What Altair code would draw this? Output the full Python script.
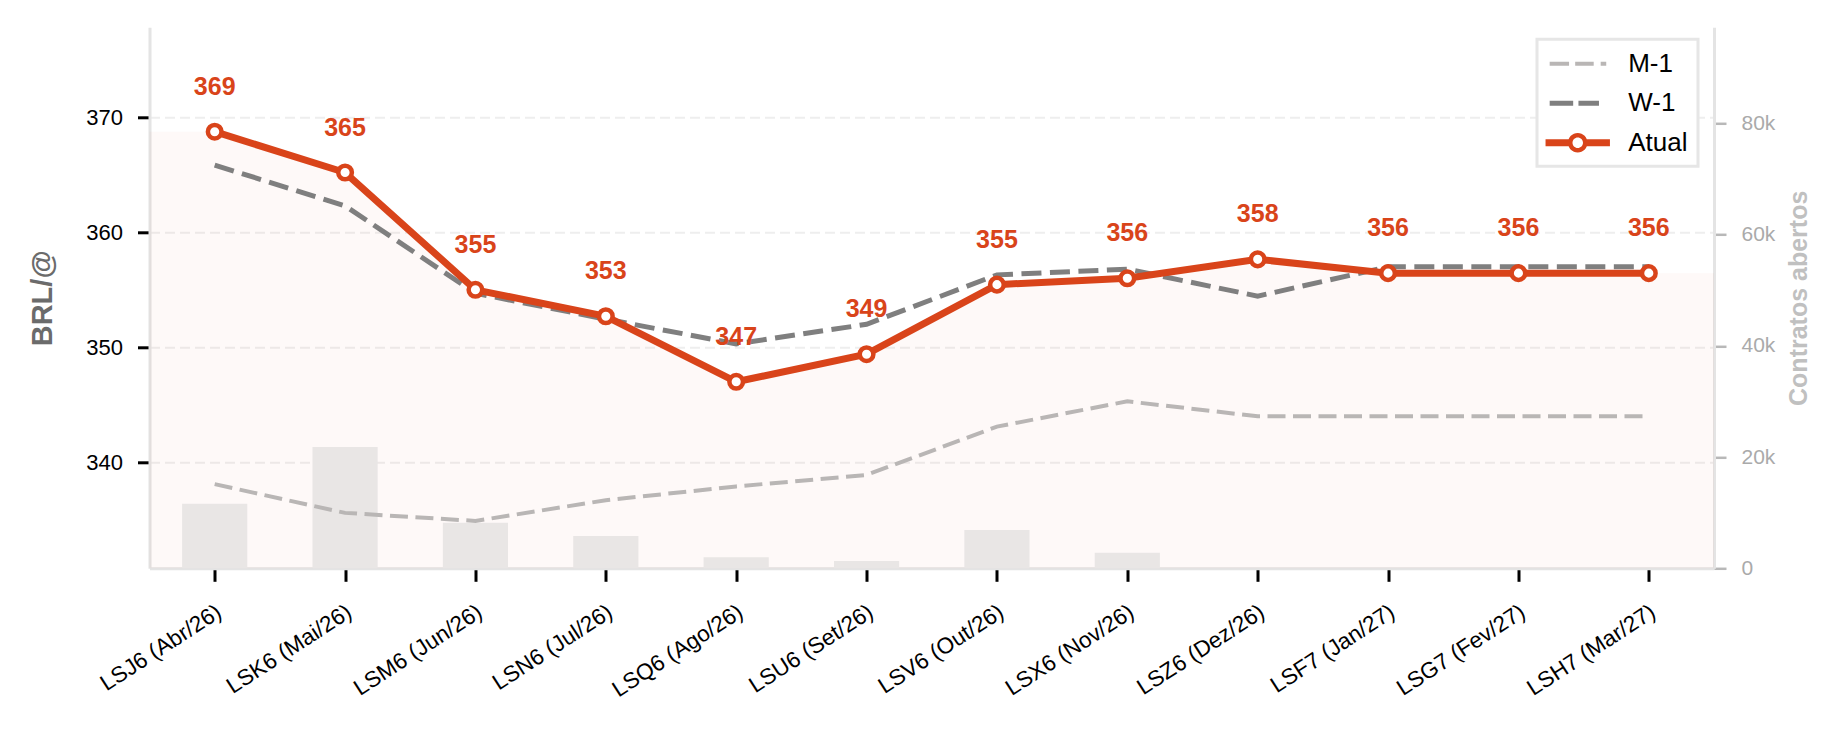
import altair as alt
import pandas as pd

# ---- data -------------------------------------------------------------
contracts = [
    "LSJ6 (Abr/26)", "LSK6 (Mai/26)", "LSM6 (Jun/26)", "LSN6 (Jul/26)",
    "LSQ6 (Ago/26)", "LSU6 (Set/26)", "LSV6 (Out/26)", "LSX6 (Nov/26)",
    "LSZ6 (Dez/26)", "LSF7 (Jan/27)", "LSG7 (Fev/27)", "LSH7 (Mar/27)",
]
atual = [368.75, 365.2, 355.0, 352.7, 347.0, 349.4, 355.45, 356.0, 357.65, 356.45, 356.45, 356.45]
w1 = [365.85, 362.3, 354.7, 352.45, 350.3, 352.0, 356.3, 356.8, 354.45, 357.0, 357.0, 357.0]
m1 = [338.1, 335.6, 334.9, 336.7, 337.9, 338.9, 343.1, 345.3, 344.0, 344.0, 344.0, 344.0]
open_interest = [11600, 21800, 8200, 5800, 2000, 1300, 6900, 2800, 0, 0, 0, 0]
series_names = ["M-1", "W-1", "Atual"]

# ---- styling ----------------------------------------------------------
FONT = "Liberation Sans"
RED = "#d9441a"
DARK_GREY = "#7f7f7f"
LIGHT_GREY = "#b9b6b5"
BAR_FILL = "#e9e6e5"
SPINE = "#e4e4e4"

W, H = 1564.5, 541
PRICE_DOMAIN = [330.78, 377.83]
OI_DOMAIN = [0, 97260]

idx = list(range(len(contracts)))
df = pd.DataFrame({
    "idx": idx, "contract": contracts, "atual": atual,
    "w1": w1, "m1": m1, "oi": open_interest,
})
# shaded region under the current curve, carried flat out to both plot edges
area_df = pd.DataFrame({
    "idx": [-0.5] + idx + [len(idx) - 0.5],
    "atual": [atual[0]] + atual + [atual[-1]],
})
legend_df = pd.DataFrame({"series": series_names})

label_expr = "[" + ",".join(f"'{c}'" for c in contracts) + "][datum.value]"

x_scale = alt.Scale(domain=[-0.5, len(contracts) - 0.5], nice=False, zero=False)
x_axis = alt.Axis(
    values=idx, labelExpr=label_expr, title=None, grid=False,
    labelAngle=-33, labelAlign="right", labelBaseline="top",
    labelFontSize=22.5, labelColor="black", labelFont=FONT,
    labelFlush=False, labelOverlap=False, labelPadding=19, labelOffset=-2,
    tickColor="black", tickSize=13, tickWidth=3,
    domainColor=SPINE, domainWidth=3,
)
x_enc = alt.X("idx:Q", scale=x_scale, axis=x_axis)

price_scale = alt.Scale(domain=PRICE_DOMAIN, nice=False, zero=False)
price_axis = alt.Axis(
    orient="left", values=[340, 350, 360, 370], format="d",
    title="BRL/@", titleFontSize=29, titleFontWeight="bold", titleColor="#6b6b6b",
    titleFont=FONT, titlePadding=28,
    labelFontSize=22, labelColor="black", labelFont=FONT, labelPadding=15, labelFlush=False,
    tickColor="black", tickSize=12, tickWidth=3,
    domainColor=SPINE, domainWidth=3,
    grid=True, gridColor="#eeeeee", gridDash=[10, 5], gridWidth=2,
)
oi_scale = alt.Scale(domain=OI_DOMAIN, nice=False, zero=True)
oi_axis = alt.Axis(
    orient="right", values=[0, 20000, 40000, 60000, 80000],
    labelExpr="datum.value == 0 ? '0' : format(datum.value / 1000, 'd') + 'k'",
    title="Contratos abertos", titleFontSize=25, titleFontWeight="bold",
    titleColor="#c0c0c0", titleFont=FONT, titleAngle=270, titleBaseline="top",
    titlePadding=12,
    labelFontSize=21, labelColor="#aaaaaa", labelFont=FONT, labelPadding=15, labelFlush=False,
    tickColor="#b8b8b8", tickSize=12, tickWidth=2.5,
    domainColor=SPINE, domainWidth=3, grid=False,
)

# ---- legend glyphs (custom symbol paths) --------------------------------
SHIFT = 1.14  # symbol centre offset inside its legend slot

def rect(a, b, h):
    return f"M{a + SHIFT:.3f},{-h}H{b + SHIFT:.3f}V{h}H{a + SHIFT:.3f}Z"

def ring(r_out, r_in):
    c = SHIFT
    outer = (f"M{c + r_out:.3f},0A{r_out},{r_out} 0 1,1 {c - r_out:.3f},0"
             f"A{r_out},{r_out} 0 1,1 {c + r_out:.3f},0Z")
    inner = (f"M{c + r_in:.3f},0A{r_in},{r_in} 0 1,0 {c - r_in:.3f},0"
             f"A{r_in},{r_in} 0 1,0 {c + r_in:.3f},0Z")
    return outer + inner

path_m1 = rect(-1.97, -0.61, 0.14) + rect(-0.18, 1.12, 0.14) + rect(1.61, 2.0, 0.14)
path_w1 = rect(-1.97, -0.32, 0.175) + rect(0.05, 1.49, 0.175)
path_atual = rect(-2.26, -0.5, 0.245) + rect(0.5, 2.26, 0.245) + ring(0.684, 0.368)

legend = alt.Legend(
    title=None, orient="none", legendX=1387.5, legendY=12,
    fillColor="white", strokeColor="#e6e6e6", padding=10, cornerRadius=0,
    symbolSize=812, symbolStrokeWidth=0, symbolOffset=0, symbolOpacity=1,
    labelFontSize=26, labelFont=FONT, labelColor="black", labelOffset=52.2,
    rowPadding=11.5,
)

# ---- layers -----------------------------------------------------------
no_border = alt.ViewBackground(stroke="transparent", strokeWidth=0)

area = alt.Chart(area_df).mark_area(color=RED, opacity=0.03).encode(
    x=x_enc,
    y=alt.Y("atual:Q", scale=price_scale, axis=price_axis),
    y2=alt.datum(PRICE_DOMAIN[0]),
)

bars = alt.Chart(df).transform_calculate(
    x0="datum.idx - 0.25", x1="datum.idx + 0.25"
).mark_rect(color=BAR_FILL).encode(
    x=alt.X("x0:Q", scale=x_scale, axis=x_axis),
    x2="x1:Q",
    y=alt.Y("oi:Q", scale=oi_scale, axis=oi_axis),
    y2=alt.datum(0),
)

base = alt.Chart(df)
m1_line = base.mark_line(color=LIGHT_GREY, strokeWidth=4, strokeDash=[18, 7.5]).encode(
    x=x_enc, y=alt.Y("m1:Q", scale=price_scale, axis=None)
)
w1_line = base.mark_line(color=DARK_GREY, strokeWidth=5, strokeDash=[20, 8.5]).encode(
    x=x_enc, y=alt.Y("w1:Q", scale=price_scale, axis=None)
)
atual_line = base.mark_line(color=RED, strokeWidth=7).encode(
    x=x_enc, y=alt.Y("atual:Q", scale=price_scale, axis=None)
)
atual_pts = base.mark_point(
    shape="circle", filled=True, fill="white", stroke=RED, strokeWidth=4.5, size=185, opacity=1
).encode(x=x_enc, y=alt.Y("atual:Q", scale=price_scale, axis=None))
atual_lbl = base.mark_text(
    dy=-45, fontSize=25, fontWeight="bold", color=RED, font=FONT, baseline="middle"
).encode(
    x=x_enc, y=alt.Y("atual:Q", scale=price_scale, axis=None),
    text=alt.Text("atual:Q", format=".0f"),
)
legend_marks = alt.Chart(legend_df).mark_point(filled=True, opacity=0).encode(
    x=alt.value(0), y=alt.value(0),
    color=alt.Color("series:N", scale=alt.Scale(domain=series_names,
                    range=[LIGHT_GREY, DARK_GREY, RED]), legend=legend),
    shape=alt.Shape("series:N", scale=alt.Scale(domain=series_names,
                    range=[path_m1, path_w1, path_atual]), legend=legend),
)

lines = alt.layer(m1_line, w1_line, atual_line, atual_pts, atual_lbl, legend_marks)

chart = alt.layer(area, bars, lines).resolve_scale(y="independent").properties(
    width=W, height=H,
    padding={"left": 149.5, "top": 27.3, "right": 132, "bottom": 165.7},
    autosize=alt.AutoSizeParams(type="none"),
    background="white",
    view=no_border,
).configure_view(stroke="transparent", strokeWidth=0).configure(font=FONT).configure_legend(strokeWidth=3)

chart.save("out.html", embed_options={"renderer": "svg", "actions": False})
